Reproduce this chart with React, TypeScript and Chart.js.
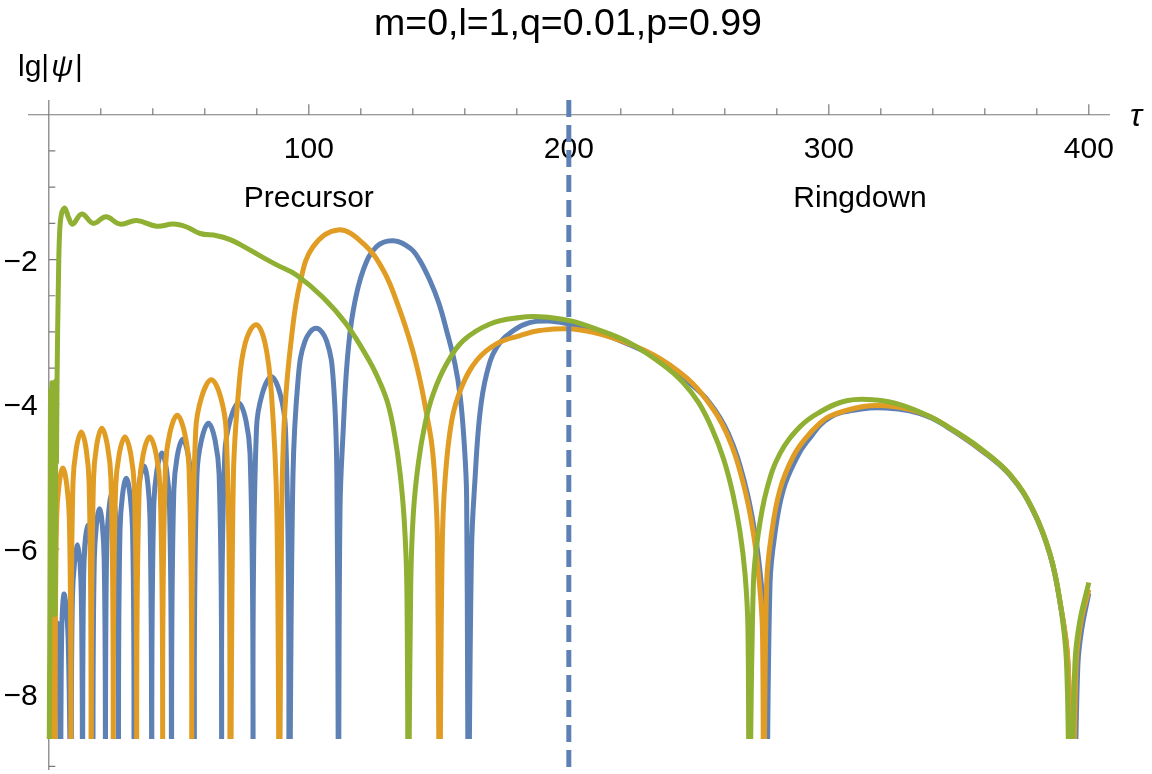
import { useEffect, useRef } from "react";
import { Chart, registerables, Plugin } from "chart.js";

Chart.register(...registerables);

// [tau, lg|psi|]; dips go below the plot floor and get clipped
const blue: [number, number][] = [
  [0.8, -10], [1.5, -7.9], [2.1, -10], [2.5, -7.6], [3.4, -7.02], [4.1, -7.6], [4.5, -10],
  [4.9, -7.3], [5.8, -6.62], [7.4, -7.2], [8.6, -10],
  [9.1, -6.64], [11.1, -5.94], [12.5, -6.64], [13.0, -10],
  [13.4, -6.37], [14.9, -5.67], [16.6, -6.37], [17.0, -10],
  [17.5, -6.14], [19.5, -5.44], [21.3, -6.14], [21.8, -10],
  [22.3, -5.93], [24.3, -5.23], [26.3, -5.93], [26.8, -10],
  [27.4, -5.72], [29.8, -5.02], [32.2, -5.72], [32.8, -10],
  [33.5, -5.55], [36.6, -4.85], [38.9, -5.55], [39.6, -10],
  [40.4, -5.37], [43.5, -4.67], [46.4, -5.37], [47.2, -10],
  [48.1, -5.18], [51.5, -4.48], [55.1, -5.18], [56.0, -10],
  [57.0, -4.96], [61.4, -4.26], [65.5, -4.96], [66.5, -10],
  [67.7, -4.68], [73.0, -3.98], [77.4, -4.68], [78.6, -10],
  [79.9, -4.32], [85.6, -3.62], [91.0, -4.32], [92.4, -10],
  [93.9, -5.0], [95.9, -3.65], [98.5, -3.13], [102.8, -2.95], [106.9, -3.13], [109.4, -3.66], [110.8, -5.0], [111.4, -10],
  [112.0, -5.46], [113.3, -4.31], [114.8, -3.39], [117.1, -2.7], [121.0, -2.14], [126.1, -1.82], [132.5, -1.74],
  [138.9, -1.84], [142.5, -2.0], [146.6, -2.29], [150.0, -2.6], [153.0, -2.98], [156.2, -3.44], [158.2, -3.88],
  [159.7, -4.5], [160.7, -5.28], [161.3, -10],
  [162.6, -6.0], [163.9, -5.05], [165.8, -4.13], [168.4, -3.58], [172.3, -3.21], [178.7, -2.98], [184.9, -2.87],
  [192.0, -2.85], [199.9, -2.89], [208.0, -2.96], [216.9, -3.08], [232.3, -3.33], [245.2, -3.67], [253.8, -3.96],
  [261.3, -4.4], [267.7, -5.09], [271.6, -5.78], [274.0, -6.47], [275.3, -7.16], [276.0, -10],
  [277.4, -6.47], [279.3, -5.78], [282.5, -5.18], [287.5, -4.75], [291.5, -4.52], [300.5, -4.18], [313.3, -4.06],
  [322.0, -4.05], [331.0, -4.09], [339.0, -4.18], [345.4, -4.31], [358.0, -4.62], [369.7, -4.98], [378.7, -5.48],
  [385.1, -6.08], [388.9, -6.73], [391.9, -7.55], [394.0, -10], [395.8, -7.6], [397.3, -7.1], [400.0, -6.61],
];

const orange: [number, number][] = [
  [0.6, -10], [1.5, -6.9], [2.4, -10],
  [3.0, -5.58], [5.4, -4.88], [7.9, -5.58], [8.5, -10],
  [9.3, -5.08], [12.5, -4.38], [15.5, -5.08], [16.3, -10],
  [17.2, -5.03], [20.4, -4.33], [23.9, -5.03], [24.8, -10],
  [25.7, -5.15], [29.3, -4.45], [32.9, -5.15], [33.8, -10],
  [34.8, -5.15], [38.8, -4.45], [42.8, -5.15], [43.8, -10],
  [44.9, -4.85], [49.4, -4.15], [53.9, -4.85], [55.0, -10],
  [56.5, -4.36], [62.5, -3.66], [68.2, -4.36], [69.7, -10],
  [71.0, -5.0], [72.9, -3.85], [75.5, -3.16], [79.7, -2.9], [83.2, -3.16], [85.7, -3.89], [87.7, -5.46], [88.7, -10],
  [89.6, -5.46], [90.8, -4.08], [93.4, -3.06], [96.6, -2.33], [101.7, -1.82], [111.3, -1.59], [121.0, -1.78],
  [128.7, -2.15], [134.5, -2.65], [139.6, -3.21], [142.8, -3.67], [145.3, -4.13], [147.3, -4.55], [148.6, -5.1],
  [149.5, -5.9], [150.2, -10],
  [151.3, -6.0], [152.4, -5.05], [155.0, -4.22], [158.8, -3.76], [164.6, -3.39], [172.3, -3.16], [181.2, -3.05],
  [188.8, -2.98], [201.6, -2.96], [216.9, -3.08], [232.3, -3.31], [245.2, -3.63], [253.0, -3.94], [260.7, -4.4],
  [267.1, -5.09], [271.0, -5.78], [273.3, -6.47], [274.5, -7.16], [274.9, -10],
  [276.1, -6.47], [278.0, -5.78], [281.2, -5.18], [286.3, -4.72], [291.5, -4.45], [296.0, -4.28], [300.5, -4.16],
  [313.3, -4.03], [322.0, -4.02], [331.0, -4.07], [339.0, -4.17], [345.4, -4.3], [358.0, -4.61], [369.7, -4.97],
  [378.7, -5.47], [385.1, -6.07], [388.9, -6.72], [392.0, -7.55], [393.6, -10], [395.2, -7.55], [397.0, -7.0],
  [400.0, -6.56],
];

const green: [number, number][] = [
  [0.0, -10], [0.4, -6.9], [0.7, -3.8], [0.95, -6.9], [1.2, -3.7], [1.45, -6.9], [1.7, -3.7], [1.95, -6.9],
  [2.2, -3.7], [2.45, -6.9], [2.7, -3.7], [2.95, -4.8], [3.2, -3.6], [3.7, -2.3], [4.2, -1.6], [5.0, -1.35],
  [6.2, -1.29], [7.6, -1.42], [9.2, -1.51], [12.7, -1.37], [17.1, -1.5], [22.0, -1.41], [27.4, -1.51],
  [33.8, -1.46], [41.5, -1.54], [47.9, -1.51], [53.0, -1.55], [58.2, -1.64], [64.6, -1.67], [69.5, -1.72],
  [73.5, -1.79], [82.3, -1.97], [88.0, -2.08], [95.1, -2.21], [105.4, -2.52], [114.4, -2.89], [123.3, -3.4],
  [127.4, -3.7], [130.5, -4.0], [133.0, -4.42], [135.1, -4.95], [136.7, -5.6], [137.7, -6.5], [138.3, -10],
  [139.2, -6.5], [140.2, -5.51], [142.1, -4.82], [144.7, -4.27], [147.9, -3.85], [153.0, -3.44], [159.4, -3.12],
  [169.7, -2.89], [181.2, -2.8], [188.8, -2.79], [199.9, -2.84], [210.6, -2.96], [223.4, -3.15], [237.6, -3.49],
  [244.0, -3.7], [250.0, -3.98], [255.0, -4.33], [259.5, -4.75], [263.0, -5.22], [265.8, -5.75], [267.8, -6.35],
  [268.9, -7.1], [269.4, -10],
  [271.0, -6.47], [272.9, -5.78], [276.1, -5.18], [281.2, -4.68], [288.9, -4.31], [295.9, -4.12], [306.8, -3.95],
  [318.3, -3.94], [328.0, -4.01], [339.0, -4.17], [345.4, -4.3], [358.0, -4.6], [369.7, -4.97], [378.7, -5.47],
  [385.1, -6.07], [388.9, -6.72], [391.4, -7.55], [392.8, -10], [394.7, -7.55], [396.5, -7.0], [400.0, -6.46],
];

const xMajorTicks = [100, 200, 300, 400];
const xMinorTicks = [20, 40, 60, 80, 120, 140, 160, 180, 220, 240, 260, 280, 320, 340, 360, 380];
const yMajorTicks = [-2, -4, -6, -8];
const yMinorTicks = [-0.5, -1, -1.5, -2.5, -3, -3.5, -4.5, -5, -5.5, -6.5, -7, -7.5, -8.5, -9];
const yTickLabels = ["\u22122", "\u22124", "\u22126", "\u22128"];

const splitTau = 200;
const regionLabels = [
  { text: "Precursor", tau: 100 },
  { text: "Ringdown", tau: 312 },
];

const FONT = '"Liberation Sans", Arial, sans-serif';
const AXIS = "#7a7a7a";

const mmaAxes: Plugin<"line"> = {
  id: "mmaAxes",
  beforeDatasetsDraw(chart) {
    const { ctx, chartArea, scales } = chart;
    const xs = scales.x;
    const ys = scales.y;
    const x0 = xs.getPixelForValue(0);
    const y0 = ys.getPixelForValue(0);
    ctx.save();
    ctx.strokeStyle = AXIS;
    ctx.lineWidth = 1.2;
    ctx.beginPath();
    ctx.moveTo(chartArea.left, y0);
    ctx.lineTo(chartArea.right, y0);
    ctx.moveTo(x0, chartArea.top);
    ctx.lineTo(x0, chartArea.bottom);
    xMinorTicks.forEach((t) => {
      const p = xs.getPixelForValue(t);
      ctx.moveTo(p, y0);
      ctx.lineTo(p, y0 - 6.5);
    });
    xMajorTicks.forEach((t) => {
      const p = xs.getPixelForValue(t);
      ctx.moveTo(p, y0);
      ctx.lineTo(p, y0 - 10.5);
    });
    yMinorTicks.forEach((v) => {
      const p = ys.getPixelForValue(v);
      ctx.moveTo(x0, p);
      ctx.lineTo(x0 + 6.5, p);
    });
    yMajorTicks.forEach((v) => {
      const p = ys.getPixelForValue(v);
      ctx.moveTo(x0, p);
      ctx.lineTo(x0 + 10.5, p);
    });
    ctx.stroke();

    ctx.fillStyle = "#000";
    ctx.font = `30px ${FONT}`;
    ctx.textAlign = "center";
    ctx.textBaseline = "alphabetic";
    xMajorTicks.forEach((t) => {
      ctx.fillText(String(t), xs.getPixelForValue(t), y0 + 43);
    });
    ctx.textAlign = "right";
    yMajorTicks.forEach((v, i) => {
      ctx.fillText(yTickLabels[i], x0 - 11, ys.getPixelForValue(v) + 11);
    });
    ctx.restore();
  },
  afterDatasetsDraw(chart) {
    const { ctx, chartArea, scales } = chart;
    const xs = scales.x;
    const ys = scales.y;
    const px = xs.getPixelForValue(splitTau);
    ctx.save();
    ctx.strokeStyle = "#5E81B5";
    ctx.lineWidth = 5;
    ctx.setLineDash([17, 8]);
    ctx.beginPath();
    ctx.moveTo(px, chartArea.top);
    ctx.lineTo(px, chartArea.bottom);
    ctx.stroke();
    ctx.setLineDash([]);

    ctx.fillStyle = "#000";
    ctx.font = `30px ${FONT}`;
    ctx.textAlign = "center";
    ctx.textBaseline = "alphabetic";
    regionLabels.forEach((r) => {
      ctx.fillText(r.text, xs.getPixelForValue(r.tau), ys.getPixelForValue(-1.27));
    });

    // title
    ctx.font = `37.5px ${FONT}`;
    ctx.fillText("m=0,l=1,q=0.01,p=0.99", 568, 35);

    // axis labels
    ctx.textAlign = "left";
    ctx.font = `30px ${FONT}`;
    let lx = 18;
    const by = 76;
    ctx.fillText("lg|", lx, by);
    lx += ctx.measureText("lg|").width + 2;
    ctx.font = `italic 30px ${FONT}`;
    ctx.fillText("\u03C8", lx, by);
    lx += ctx.measureText("\u03C8").width + 2;
    ctx.font = `30px ${FONT}`;
    ctx.fillText("|", lx, by);

    ctx.font = `italic 32px ${FONT}`;
    ctx.fillText("\u03C4", 1130, 126);
    ctx.restore();
  },
};

const toPoints = (s: [number, number][]) => s.map(([x, y]) => ({ x, y }));

export default function App() {
  const canvasRef = useRef<HTMLCanvasElement>(null);
  const chartRef = useRef<Chart | null>(null);

  useEffect(() => {
    document.body.style.margin = "0";
    document.body.style.overflow = "hidden";
    if (!canvasRef.current) return;
    if (chartRef.current) chartRef.current.destroy();

    const clip = { left: 0, top: 0, right: 0, bottom: -31 };
    const common = {
      borderWidth: 5,
      pointRadius: 0,
      fill: false,
      tension: 0.4,
      borderJoinStyle: "round" as const,
      clip,
    };

    chartRef.current = new Chart(canvasRef.current, {
      type: "line",
      data: {
        datasets: [
          { ...common, label: "green", data: toPoints(green), borderColor: "#8FB032" },
          { ...common, label: "orange", data: toPoints(orange), borderColor: "#E19C24" },
          { ...common, label: "blue", data: toPoints(blue), borderColor: "#5E81B5" },
        ],
      },
      options: {
        animation: false,
        responsive: false,
        events: [],
        layout: { padding: { left: 28, right: 42, top: 100, bottom: 4 } },
        plugins: {
          legend: { display: false },
          tooltip: { enabled: false },
        },
        scales: {
          x: { type: "linear", min: -8, max: 408.15, display: false },
          y: { type: "linear", min: -9.05, max: 0.204, display: false },
        },
      },
      plugins: [mmaAxes],
    });

    return () => {
      if (chartRef.current) {
        chartRef.current.destroy();
        chartRef.current = null;
      }
    };
  }, []);

  return (
    <div style={{ width: 1152, height: 774, background: "#fff" }}>
      <canvas ref={canvasRef} width={1152} height={774} style={{ display: "block" }} />
    </div>
  );
}
